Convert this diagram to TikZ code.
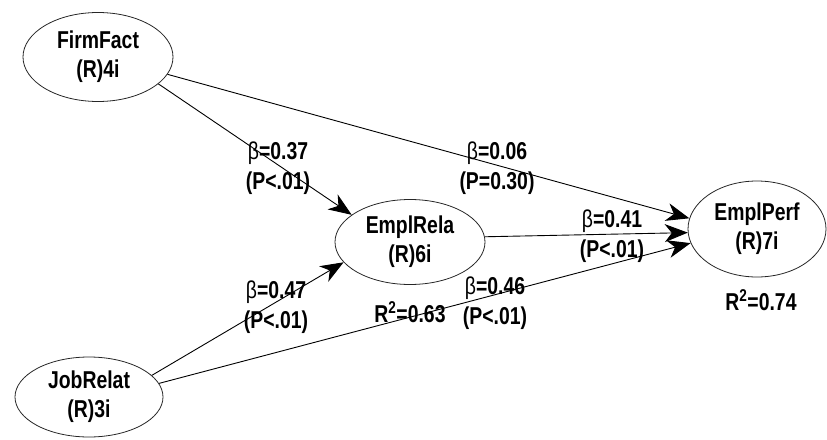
\documentclass[tikz,border=0pt]{standalone}
\usepackage{fontspec}
\usepackage{graphicx}
\setmainfont{Liberation Sans}
\usetikzlibrary{shapes.geometric,arrows.meta}
% tall, slightly narrow lettering
\newcommand{\tall}[1]{\scalebox{0.97}[1.22]{#1}}
\begin{document}
\begin{tikzpicture}[x=1pt,y=-1pt,
  latent/.style={ellipse,draw=black!85,line width=0.8pt,inner sep=0pt,
    align=center,font=\fontsize{20}{29}\selectfont\bfseries},
  coef/.style={align=center,inner sep=0pt,font=\fontsize{20}{30}\selectfont\bfseries},
  path/.style={draw=black,line width=0.9pt,
    -{Stealth[length=23pt,width=18pt,inset=7pt]}}]
\useasboundingbox (0,0) rectangle (827,439);

% constructs
\node[latent,minimum width=150pt,minimum height=89pt] (ff) at (98,57) {\tall{FirmFact}\\\tall{(R)4i}};
\node[latent,minimum width=148pt,minimum height=80pt] (jr) at (89,397) {\tall{JobRelat}\\\tall{(R)3i}};
\node[latent,minimum width=150pt,minimum height=85pt] (er) at (410,242) {\tall{EmplRela}\\\tall{(R)6i}};
\node[latent,minimum width=138pt,minimum height=96pt] (ep) at (757,229) {\tall{EmplPerf}\\\tall{(R)7i}};

% structural paths
\draw[path] (ff.-24) -- (er.155);
\draw[path] (ff.-14) -- (ep.171);
\draw[path] (er.4) -- (ep.-177);
\draw[path] (jr.19) -- (er.-163);
\draw[path] (jr.11) -- (ep.-168);

% path coefficients
\node[coef] (c1) at (278,168) {\tall{{\mdseries β}=0.37}\\\tall{(P<.01)}};
\node[coef] (c2) at (497,168) {\tall{{\mdseries β}=0.06}\\\tall{(P=0.30)}};
\node[coef] (c3) at (612,236) {\tall{{\mdseries β}=0.41}\\\tall{(P<.01)}};
\node[coef] (c4) at (276,307) {\tall{{\mdseries β}=0.47}\\\tall{(P<.01)}};
\node[coef] (c5) at (495,303) {\tall{{\mdseries β}=0.46}\\\tall{(P<.01)}};

% explained variance
\node[coef] (r1) at (410,312) {\tall{R\textsuperscript{2}=0.63}};
\node[coef] (r2) at (761,300) {\tall{R\textsuperscript{2}=0.74}};
\end{tikzpicture}
\end{document}
